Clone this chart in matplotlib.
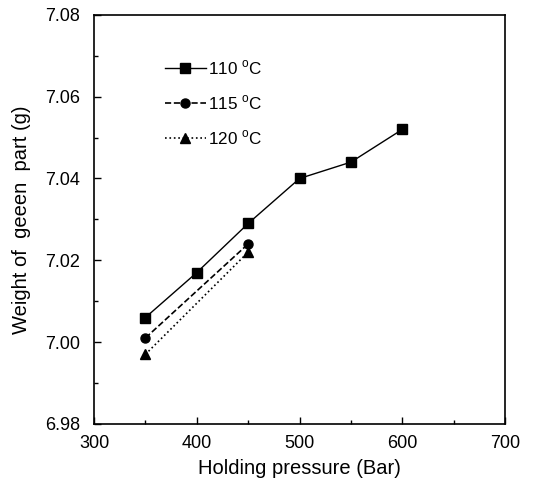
import matplotlib
matplotlib.use("Agg")
import matplotlib.pyplot as plt
from matplotlib.ticker import MultipleLocator, FormatStrFormatter

plt.rcParams['font.family'] = ['Liberation Sans', 'DejaVu Sans']

p110 = [350, 400, 450, 500, 550, 600]
w110 = [7.006, 7.017, 7.029, 7.040, 7.044, 7.052]
p115 = [350, 450]
w115 = [7.001, 7.024]
p120 = [350, 450]
w120 = [6.997, 7.022]
labels = ["110 $^{\\mathregular{o}}$C", "115 $^{\\mathregular{o}}$C", "120 $^{\\mathregular{o}}$C"]

fig = plt.figure(figsize=(5.34, 4.79), dpi=100)
ax = fig.add_axes([0.176, 0.115, 0.770, 0.854])

ax.plot(p110, w110, '-', color='black', marker='s', markersize=6.5, lw=1, label=labels[0])
ax.plot(p115, w115, '--', color='black', marker='o', markersize=6.5, lw=1.2, label=labels[1])
ax.plot(p120, w120, ':', color='black', marker='^', markersize=6.5, lw=1.2, label=labels[2])

ax.set_xlim(300, 700)
ax.set_ylim(6.98, 7.08)
ax.xaxis.set_major_locator(MultipleLocator(100))
ax.xaxis.set_minor_locator(MultipleLocator(50))
ax.yaxis.set_major_locator(MultipleLocator(0.02))
ax.yaxis.set_minor_locator(MultipleLocator(0.01))
ax.yaxis.set_major_formatter(FormatStrFormatter('%.2f'))
ax.tick_params(which='major', direction='in', length=5, width=1, labelsize=13)
ax.tick_params(which='minor', direction='in', length=3, width=1)
ax.tick_params(axis='y', which='major', pad=10)
ax.tick_params(axis='x', which='major', pad=8)
for s in ax.spines.values():
    s.set_linewidth(1.2)

ax.set_xlabel("Holding pressure (Bar)", fontsize=14.5, labelpad=5)
ax.set_ylabel("Weight of  geeen  part (g)", fontsize=14.5, labelpad=10)

ax.legend(loc='upper left', bbox_to_anchor=(0.155, 0.91), frameon=False, fontsize=12.3,
          handlelength=2.4, labelspacing=0.95, handletextpad=0.15, borderaxespad=0)

fig.savefig("out.png", dpi=100)
